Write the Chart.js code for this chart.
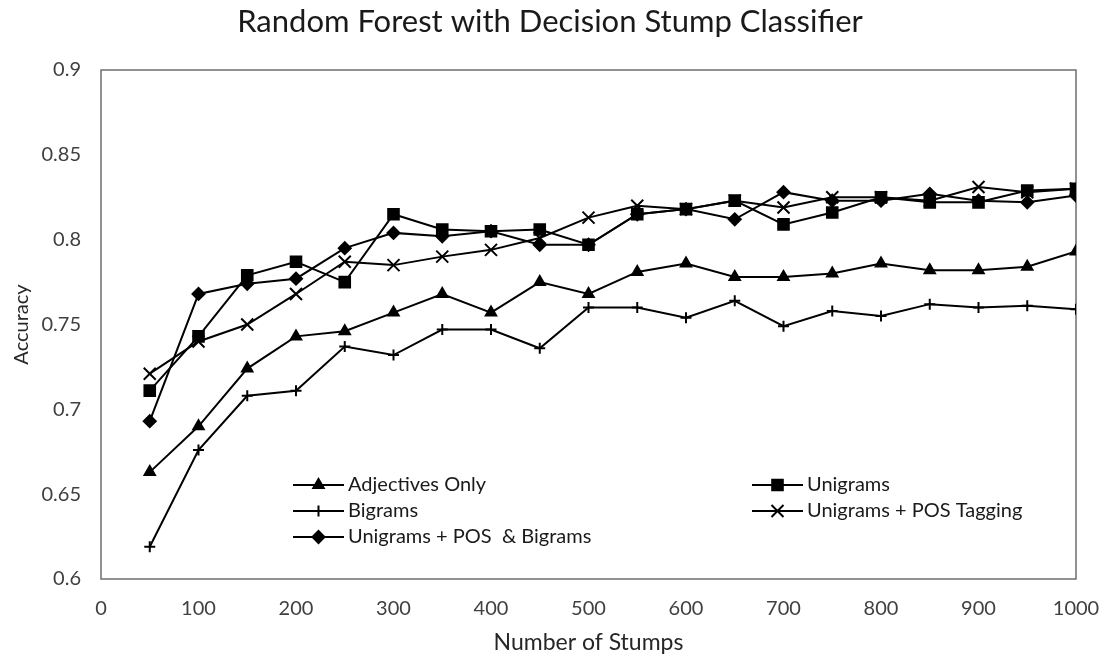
<!DOCTYPE html>
<html>
<head>
<meta charset="utf-8">
<script src="https://cdn.jsdelivr.net/npm/chart.js@4/dist/chart.umd.min.js"></script>
<style>
  html, body { margin: 0; padding: 0; background: #ffffff; }
  #wrap { width: 1115px; height: 659px; position: relative; }
</style>
</head>
<body>
<div id="wrap"><canvas id="chart"></canvas></div>
<script>
// Number of decision stumps in the forest
const stumps = [50, 100, 150, 200, 250, 300, 350, 400, 450, 500,
                550, 600, 650, 700, 750, 800, 850, 900, 950, 1000];

// Accuracy per feature set
const adjectivesOnly = [0.663, 0.690, 0.724, 0.743, 0.746, 0.757, 0.768, 0.757, 0.775, 0.768,
                        0.781, 0.786, 0.778, 0.778, 0.780, 0.786, 0.782, 0.782, 0.784, 0.793];
const unigrams       = [0.711, 0.743, 0.779, 0.787, 0.775, 0.815, 0.806, 0.805, 0.806, 0.797,
                        0.815, 0.818, 0.823, 0.809, 0.816, 0.825, 0.822, 0.822, 0.829, 0.830];
const bigrams        = [0.619, 0.676, 0.708, 0.711, 0.737, 0.732, 0.747, 0.747, 0.736, 0.760,
                        0.760, 0.754, 0.764, 0.749, 0.758, 0.755, 0.762, 0.760, 0.761, 0.759];
const unigramsPos    = [0.721, 0.740, 0.750, 0.768, 0.787, 0.785, 0.790, 0.794, 0.801, 0.813,
                        0.820, 0.818, 0.823, 0.819, 0.825, 0.825, 0.823, 0.831, 0.828, 0.830];
const unigramsPosBi  = [0.693, 0.768, 0.774, 0.777, 0.795, 0.804, 0.802, 0.805, 0.797, 0.797,
                        0.815, 0.818, 0.812, 0.828, 0.823, 0.823, 0.827, 0.823, 0.822, 0.826];

// Axis ticks
const xTicks = ['0', '100', '200', '300', '400', '500', '600', '700', '800', '900', '1000'];
const yTicks = ['0.6', '0.65', '0.7', '0.75', '0.8', '0.85', '0.9'];

const FONT = 'Lato, "Open Sans", sans-serif';
const INK = '#000000';

function series(label, values, pointStyle, radius) {
  return {
    label,
    data: stumps.map((s, i) => ({ x: s, y: values[i] })),
    borderColor: INK,
    backgroundColor: INK,
    borderWidth: 2,
    pointStyle,
    pointRadius: radius,
    pointBorderWidth: 2,
    pointBackgroundColor: INK,
    pointBorderColor: INK,
    tension: 0
  };
}

const datasets = [
  series('Adjectives Only', adjectivesOnly, 'triangle', 6),
  series('Unigrams', unigrams, 'rect', 7.5),
  series('Bigrams', bigrams, 'cross', 5.5),
  series('Unigrams + POS Tagging', unigramsPos, 'crossRot', 8.5),
  series('Unigrams + POS  & Bigrams', unigramsPosBi, 'rectRot', 6)
];

function tickText(list, v) {
  return list.find(t => Math.abs(parseFloat(t) - v) < 1e-9) || '';
}

// Frame around the plotting area
const frame = {
  id: 'frame',
  beforeDatasetsDraw(chart) {
    const { ctx, chartArea: a } = chart;
    ctx.save();
    ctx.strokeStyle = '#6e6e6e';
    ctx.lineWidth = 1.5;
    ctx.strokeRect(a.left, a.top, a.right - a.left, a.bottom - a.top);
    ctx.restore();
  }
};

// Centered heading above the plot
const heading = {
  id: 'heading',
  afterDraw(chart) {
    const { ctx } = chart;
    ctx.save();
    ctx.fillStyle = '#1a1a1a';
    ctx.font = '31px ' + FONT;
    ctx.textAlign = 'center';
    ctx.textBaseline = 'middle';
    ctx.fillText('Random Forest with Decision Stump Classifier', 550, 22);
    ctx.restore();
  }
};

// Two-column legend inside the lower part of the plot
const insetLegend = {
  id: 'insetLegend',
  afterDatasetsDraw(chart) {
    const { ctx, chartArea: a } = chart;
    const cols = [a.left + 192, a.left + 651];
    const rows = [a.bottom - 94, a.bottom - 68, a.bottom - 42];
    ctx.save();
    ctx.font = '20px ' + FONT;
    ctx.textBaseline = 'middle';
    ctx.textAlign = 'left';
    chart.data.datasets.forEach((ds, i) => {
      const x0 = cols[i % 2];
      const y = rows[Math.floor(i / 2)];
      ctx.strokeStyle = INK;
      ctx.lineWidth = 2;
      ctx.beginPath();
      ctx.moveTo(x0, y);
      ctx.lineTo(x0 + 51, y);
      ctx.stroke();
      ctx.fillStyle = INK;
      Chart.helpers.drawPoint(ctx, {
        pointStyle: ds.pointStyle,
        radius: ds.pointRadius,
        borderWidth: 2,
        rotation: 0
      }, x0 + 25.5, y);
      ctx.fillStyle = '#1a1a1a';
      ctx.fillText(ds.label, x0 + 55, y);
    });
    ctx.restore();
  }
};

new Chart(document.getElementById('chart'), {
  type: 'line',
  data: { datasets },
  options: {
    responsive: true,
    maintainAspectRatio: false,
    animation: false,
    devicePixelRatio: 1,
    layout: { padding: { left: 0, right: 39, top: 70, bottom: 0 } },
    plugins: {
      legend: { display: false },
      title: { display: false },
      tooltip: { enabled: false }
    },
    scales: {
      x: {
        type: 'linear',
        min: 0,
        max: 1000,
        afterBuildTicks(scale) {
          scale.ticks = xTicks.map(t => ({ value: parseFloat(t) }));
        },
        afterFit(scale) {
          scale.height = 80;
          scale.paddingLeft = 0;
          scale.paddingRight = 0;
        },
        grid: { display: false, drawTicks: false },
        border: { display: false },
        ticks: {
          padding: 18,
          color: '#404040',
          font: { family: FONT, size: 20 },
          maxRotation: 0,
          autoSkip: false,
          callback: (v) => tickText(xTicks, v)
        },
        title: {
          display: true,
          text: 'Number of Stumps',
          color: '#262626',
          font: { family: FONT, size: 23 },
          padding: { top: 0, bottom: 3 }
        }
      },
      y: {
        type: 'linear',
        min: 0.6,
        max: 0.9,
        afterBuildTicks(scale) {
          scale.ticks = yTicks.map(t => ({ value: parseFloat(t) }));
        },
        afterFit(scale) {
          scale.width = 101;
          scale.paddingTop = 0;
          scale.paddingBottom = 0;
        },
        grid: { display: false, drawTicks: false },
        border: { display: false },
        ticks: {
          padding: 20,
          color: '#404040',
          font: { family: FONT, size: 20 },
          callback: (v) => tickText(yTicks, v)
        },
        title: {
          display: true,
          text: 'Accuracy',
          color: '#262626',
          font: { family: FONT, size: 20 },
          padding: { top: 10, bottom: 0 }
        }
      }
    }
  },
  plugins: [frame, heading, insetLegend]
});
</script>
</body>
</html>
